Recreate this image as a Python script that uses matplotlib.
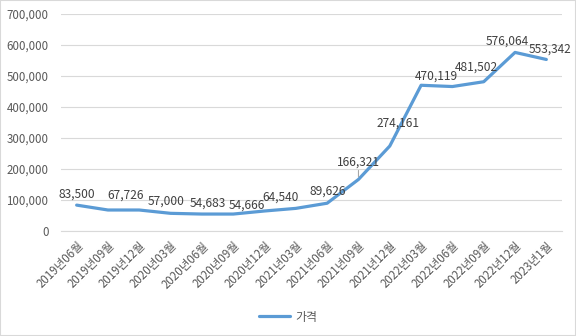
import matplotlib.pyplot as plt
from matplotlib.patches import Rectangle
from matplotlib.ticker import FuncFormatter

plt.rcParams['font.family'] = ['Noto Sans CJK KR', 'DejaVu Sans']

# 분기별 가격
months = ['2019년06월', '2019년09월', '2019년12월', '2020년03월', '2020년06월',
          '2020년09월', '2020년12월', '2021년03월', '2021년06월', '2021년09월',
          '2021년12월', '2022년03월', '2022년06월', '2022년09월', '2022년12월',
          '2023년1월']
prices = [83500, 67726, 67700, 57000, 54683, 54666, 64540, 73000, 89626,
          166321, 274161, 470119, 466000, 481502, 576064, 553342]
# 라벨을 표시할 지점
label_idx = [0, 1, 3, 4, 5, 6, 8, 9, 10, 11, 13, 14, 15]
# 라벨 위치 (픽셀 오프셋)
label_off = {0: (0, 11), 1: (18, 15), 3: (-4, 12), 4: (6, 11), 5: (14, 9),
             6: (16, 14), 8: (1, 12), 9: (0, 17), 10: (8, 23), 11: (15, 9),
             13: (-7, 15), 14: (-8, 11), 15: (4, 10)}

txt = '#595959'
grid = '#D9D9D9'
blue = '#5B9BD5'

fig = plt.figure(figsize=(5.76, 3.36), dpi=100)
ax = fig.add_axes([61/576, 1-231/336, (562-61)/576, (231-14)/336])

x = list(range(len(months)))
ln, = ax.plot(x, prices, color=blue, lw=2.3, solid_capstyle='round',
              solid_joinstyle='round', label='가격')

for i in label_idx:
    dx, dy = label_off[i]
    ax.annotate(f'{prices[i]:,}', (i, prices[i]), xytext=(dx, dy),
                textcoords='offset pixels', ha='center', va='center',
                fontsize=8.6, color='#404040')
# 166,321 라벨 지시선
ax.annotate('', (9, prices[9]), xytext=(0, 9), textcoords='offset pixels',
            arrowprops=dict(arrowstyle='-', color='#A6A6A6', lw=0.8,
                            shrinkA=0, shrinkB=2))

ax.set_xlim(-0.5, len(months) - 0.5)
ax.set_ylim(0, 700000)
ax.set_yticks(range(0, 700001, 100000))
ax.yaxis.set_major_formatter(FuncFormatter(lambda v, p: f'{int(v):,}'))
ax.set_xticks(x)
ax.set_xticklabels(months, rotation=45, ha='right', rotation_mode='anchor')
ax.tick_params(axis='both', length=0, labelsize=8.3, labelcolor=txt)
ax.tick_params(axis='y', pad=9)
ax.tick_params(axis='x', pad=6)
ax.grid(axis='y', color=grid, lw=0.8)
ax.set_axisbelow(True)
for s in ['top', 'right', 'left']:
    ax.spines[s].set_visible(False)
ax.spines['bottom'].set_color(grid)
ax.spines['bottom'].set_linewidth(0.8)

leg = fig.legend(handles=[ln], loc='center', bbox_to_anchor=(0.5, 1-317/336),
                 frameon=False, fontsize=8.6, handlelength=2.6,
                 handletextpad=0.4)
for t in leg.get_texts():
    t.set_color(txt)

fig.patches.append(Rectangle((0, 0), 1, 1, transform=fig.transFigure,
                             fill=False, edgecolor=grid, lw=1.5))

fig.savefig('out.png', dpi=100)
